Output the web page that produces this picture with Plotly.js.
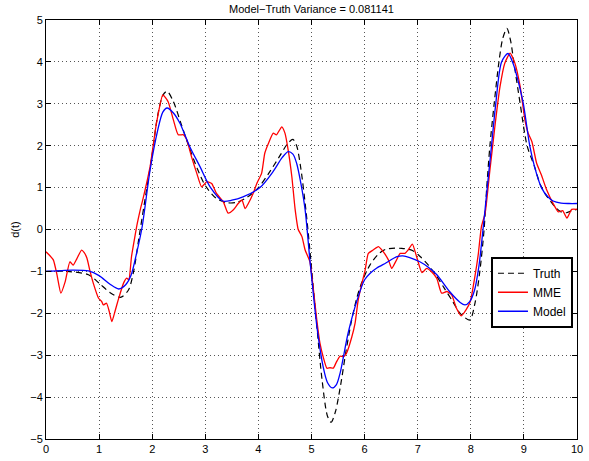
<!DOCTYPE html>
<html>
<head>
<meta charset="utf-8">
<script src="https://cdn.plot.ly/plotly-3.0.1.min.js"></script>
<style>html,body{margin:0;padding:0;background:#fff;}#chart{width:589px;height:461px;}</style>
</head>
<body>
<div id="chart"></div>
<script>
// Truth (black dashed)
const truthT = [0,0.4,0.8,1.0,1.2,1.4,1.55,1.65,1.75,1.85,2.0,2.1,2.2,2.28,2.4,2.55,2.7,2.85,3.0,3.2,3.4,3.6,3.8,4.0,4.2,4.4,4.55,4.65,4.72,4.8,4.9,4.97,5.1,5.2,5.3,5.37,5.45,5.55,5.65,5.75,5.85,5.95,6.1,6.25,6.4,6.7,6.9,7.05,7.2,7.35,7.5,7.65,7.8,7.98,8.08,8.17,8.25,8.3,8.36,8.44,8.53,8.6,8.68,8.75,8.81,8.93,9.06,9.2,9.3,9.4,9.5,9.6,9.7,9.8,9.9,10];
const truthY = [-1.0,-1.0,-1.08,-1.28,-1.5,-1.62,-1.45,-1.0,-0.2,0.6,1.8,2.7,3.2,3.3,3.05,2.5,1.95,1.45,1.05,0.75,0.64,0.65,0.78,1.0,1.35,1.75,2.05,2.15,2.0,1.45,0.4,-0.5,-2.3,-3.6,-4.45,-4.6,-4.35,-3.7,-2.9,-2.2,-1.65,-1.25,-0.85,-0.6,-0.47,-0.45,-0.5,-0.65,-0.85,-1.1,-1.4,-1.7,-2.0,-2.16,-1.75,-1.0,0.0,1.0,2.0,3.0,4.0,4.55,4.8,4.5,4.0,3.0,2.0,1.5,1.1,0.85,0.68,0.52,0.42,0.4,0.45,0.48];

// MME (red)
const mmeT = [0,0.07,0.14,0.21,0.28,0.36,0.45,0.51,0.58,0.67,0.72,0.77,0.83,0.89,0.99,1.05,1.08,1.14,1.19,1.24,1.3,1.36,1.46,1.52,1.56,1.61,1.67,1.72,1.78,1.83,1.96,2.08,2.2,2.3,2.4,2.49,2.59,2.65,2.74,2.84,2.93,3.03,3.12,3.21,3.34,3.43,3.53,3.62,3.69,3.75,3.81,3.9,3.97,4.06,4.12,4.19,4.28,4.34,4.44,4.5,4.56,4.63,4.69,4.75,4.82,4.88,4.97,5.03,5.1,5.16,5.22,5.29,5.35,5.41,5.47,5.54,5.6,5.66,5.76,5.82,5.88,5.95,6.01,6.07,6.16,6.26,6.35,6.45,6.51,6.6,6.67,6.76,6.82,6.9,6.98,7.08,7.17,7.26,7.36,7.45,7.55,7.64,7.73,7.82,7.91,7.99,8.08,8.14,8.2,8.27,8.36,8.46,8.55,8.64,8.74,8.83,8.93,9.02,9.08,9.15,9.24,9.33,9.43,9.55,9.65,9.73,9.81,9.9,10];
const mmeY = [-0.53,-0.62,-0.73,-1.1,-1.52,-1.25,-0.77,-0.85,-0.7,-0.49,-0.55,-0.68,-1.0,-1.28,-1.64,-1.72,-1.8,-1.76,-1.95,-2.2,-1.95,-1.68,-1.28,-1.16,-1.2,-0.65,-0.2,0.15,0.5,0.75,1.5,2.53,3.21,3.05,2.61,2.26,2.26,2.14,1.74,1.34,1.02,1.14,1.1,0.86,0.66,0.39,0.47,0.62,0.7,0.5,0.62,0.86,1.1,1.34,1.82,2.06,2.3,2.26,2.45,2.3,1.9,1.26,0.5,0.0,-0.17,-0.49,-0.77,-1.37,-2.16,-2.72,-3.04,-3.31,-3.3,-3.31,-3.16,-3.02,-3.04,-2.95,-2.56,-2.24,-1.68,-1.28,-0.97,-0.57,-0.49,-0.41,-0.53,-0.73,-0.93,-0.73,-0.57,-0.57,-0.49,-0.35,-0.65,-1.03,-0.93,-1.01,-1.17,-1.52,-1.48,-1.56,-1.88,-2.06,-1.92,-1.72,-1.1,-0.6,0.07,0.39,1.42,2.53,3.41,3.97,4.21,3.97,3.41,2.61,2.3,2.1,1.58,1.3,0.94,0.62,0.42,0.45,0.27,0.48,0.48];

// Model (blue)
const modelT = [0,0.3,0.5,0.8,1.0,1.2,1.37,1.5,1.6,1.7,1.81,1.96,2.1,2.2,2.28,2.4,2.52,2.71,2.9,3.09,3.33,3.5,3.71,4.03,4.27,4.45,4.56,4.65,4.72,4.8,4.88,4.97,5.1,5.22,5.3,5.39,5.47,5.54,5.69,5.86,6.0,6.1,6.23,6.4,6.61,6.72,6.85,7.04,7.2,7.36,7.6,7.8,7.89,7.98,8.07,8.15,8.23,8.31,8.39,8.47,8.58,8.7,8.8,8.9,8.99,9.11,9.2,9.33,9.45,9.55,9.7,9.85,10];
const modelY = [-1.0,-0.98,-0.97,-0.99,-1.1,-1.3,-1.42,-1.32,-1.1,-0.6,0.06,1.42,2.35,2.8,2.9,2.78,2.54,1.97,1.5,1.02,0.68,0.7,0.78,1.0,1.37,1.72,1.86,1.8,1.58,1.1,0.47,-0.73,-2.3,-3.28,-3.65,-3.78,-3.7,-3.42,-2.47,-1.68,-1.2,-1.05,-0.92,-0.8,-0.65,-0.63,-0.67,-0.77,-0.9,-1.08,-1.48,-1.74,-1.8,-1.72,-1.45,-0.9,0.0,1.0,2.0,3.0,4.0,4.2,3.95,3.5,3.0,2.0,1.5,1.0,0.78,0.68,0.63,0.62,0.62];

const xTicks = [0,1,2,3,4,5,6,7,8,9,10];
const yTicks = [-5,-4,-3,-2,-1,0,1,2,3,4,5];

const traces = [
  {x: truthT, y: truthY, name: 'Truth', type: 'scatter', mode: 'lines',
   line: {color: '#000000', width: 1.2, dash: '6px,4px', shape: 'spline', smoothing: 0.8}},
  {x: mmeT, y: mmeY, name: 'MME', type: 'scatter', mode: 'lines',
   line: {color: '#ff0000', width: 1.3, shape: 'spline', smoothing: 0.5}},
  {x: modelT, y: modelY, name: 'Model', type: 'scatter', mode: 'lines',
   line: {color: '#0000ff', width: 1.3, shape: 'spline', smoothing: 0.8}}
];

const axisCommon = {
  showline: true, linecolor: '#000', linewidth: 1, mirror: 'ticks',
  ticks: 'inside', ticklen: 5, tickcolor: '#000', tickwidth: 1,
  showgrid: true, gridcolor: '#555', gridwidth: 1, griddash: '1px,3px',
  zeroline: false, tickfont: {family: 'Liberation Sans, Arial, sans-serif', size: 11, color: '#000'}
};

const layout = {
  width: 589, height: 461,
  margin: {l: 46, r: 12, t: 20, b: 22},
  paper_bgcolor: '#fff', plot_bgcolor: '#fff',
  font: {family: 'Liberation Sans, Arial, sans-serif', size: 11, color: '#000'},
  title: {text: 'Model\u2212Truth Variance = 0.081141', x: 0.5, xref: 'paper', xanchor: 'center',
          y: 0.981, yref: 'container', yanchor: 'middle',
          font: {family: 'Liberation Sans, Arial, sans-serif', size: 11, color: '#000'}},
  xaxis: Object.assign({}, axisCommon, {range: [0, 10], tickvals: xTicks, ticktext: xTicks.map(String)}),
  yaxis: Object.assign({}, axisCommon, {range: [-5, 5], tickvals: yTicks,
         ticktext: yTicks.map(v => v < 0 ? '\u2212' + Math.abs(v) : String(v)),
         title: {text: 'd(t)', standoff: 8, font: {family: 'Liberation Sans, Arial, sans-serif', size: 11}}}),
  showlegend: true,
  legend: {x: 0.838, y: 0.435, xanchor: 'left', yanchor: 'top',
           bgcolor: '#fff', bordercolor: '#000', borderwidth: 2,
           font: {family: 'Liberation Sans, Arial, sans-serif', size: 12, color: '#000'},
           tracegroupgap: 0, itemwidth: 30}
};

Plotly.newPlot('chart', traces, layout, {displayModeBar: false, staticPlot: true});
</script>
</body>
</html>
